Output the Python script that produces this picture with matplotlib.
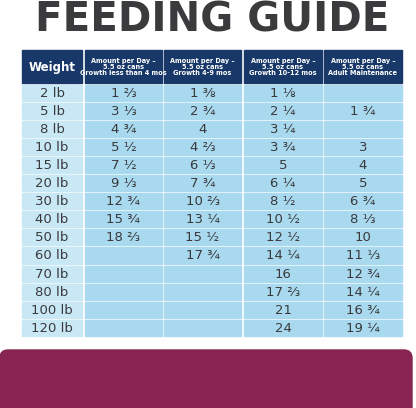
import matplotlib
matplotlib.use("Agg")
import matplotlib.pyplot as plt
from matplotlib.patches import Rectangle, FancyBboxPatch

title = "FEEDING GUIDE"
weights = ["2 lb","5 lb","8 lb","10 lb","15 lb","20 lb","30 lb","40 lb","50 lb","60 lb","70 lb","80 lb","100 lb","120 lb"]
headers = ["Weight",
           "Amount per Day –\n5.5 oz cans\nGrowth less than 4 mos",
           "Amount per Day –\n5.5 oz cans\nGrowth 4-9 mos",
           "Amount per Day –\n5.5 oz cans\nGrowth 10-12 mos",
           "Amount per Day –\n5.5 oz cans\nAdult Maintenance"]
growth_lt4 = ["1 ⅔","3 ⅓","4 ¾","5 ½","7 ½","9 ⅓","12 ¾","15 ¾","18 ⅔","","","","",""]
growth_4_9 = ["1 ⅜","2 ¾","4","4 ⅔","6 ⅓","7 ¾","10 ⅔","13 ¼","15 ½","17 ¾","","","",""]
growth_10_12 = ["1 ⅛","2 ¼","3 ¼","3 ¾","5","6 ¼","8 ½","10 ½","12 ½","14 ¼","16","17 ⅔","21","24"]
adult = ["","1 ¾","","3","4","5","6 ¾","8 ⅓","10","11 ⅓","12 ¾","14 ¼","16 ¾","19 ¼"]
columns = [weights, growth_lt4, growth_4_9, growth_10_12, adult]

fig = plt.figure(figsize=(4.16, 4.08), dpi=100)
ax = fig.add_axes([0, 0, 1, 1])
ax.set_xlim(0, 416); ax.set_ylim(408, 0); ax.axis("off")

ax.text(212, 21, title, ha="center", va="center", fontsize=29, fontweight="bold",
        color="#3b3b3d", family="DejaVu Sans")

xs = [(22, 82), (85, 162), (164, 241), (244, 322), (324, 402)]
navy = "#173868"
for (x0, x1), h in zip(xs, headers):
    ax.add_patch(Rectangle((x0, 50), x1 - x0, 33, color=navy))
    if h == "Weight":
        ax.text((x0+x1)/2, 67, h, ha="center", va="center", color="white",
                fontsize=8.5, fontweight="bold", family="Liberation Sans Narrow")
    else:
        ax.text((x0+x1)/2, 67, h, ha="center", va="center", color="white",
                fontsize=4.7, fontweight="bold", linespacing=1.05, family="Liberation Sans Narrow")

y0, rh = 85, 18.05
for ci, ((x0, x1), col) in enumerate(zip(xs, columns)):
    for ri, v in enumerate(col):
        top = y0 + ri * rh
        ax.add_patch(Rectangle((x0, top), x1 - x0, rh - 2,
                               color="#c9e8f6" if ci == 0 else "#a9d9ef"))
        if v:
            ax.text((x0+x1)/2, top + (rh-2)/2 + 0.5, v, ha="center", va="center",
                    fontsize=9.5, color="#3a3a3c")

ax.add_patch(FancyBboxPatch((0, 350), 412, 70, boxstyle="round,pad=0,rounding_size=8",
                            color="#882452"))
fig.savefig("out.png", dpi=100)
